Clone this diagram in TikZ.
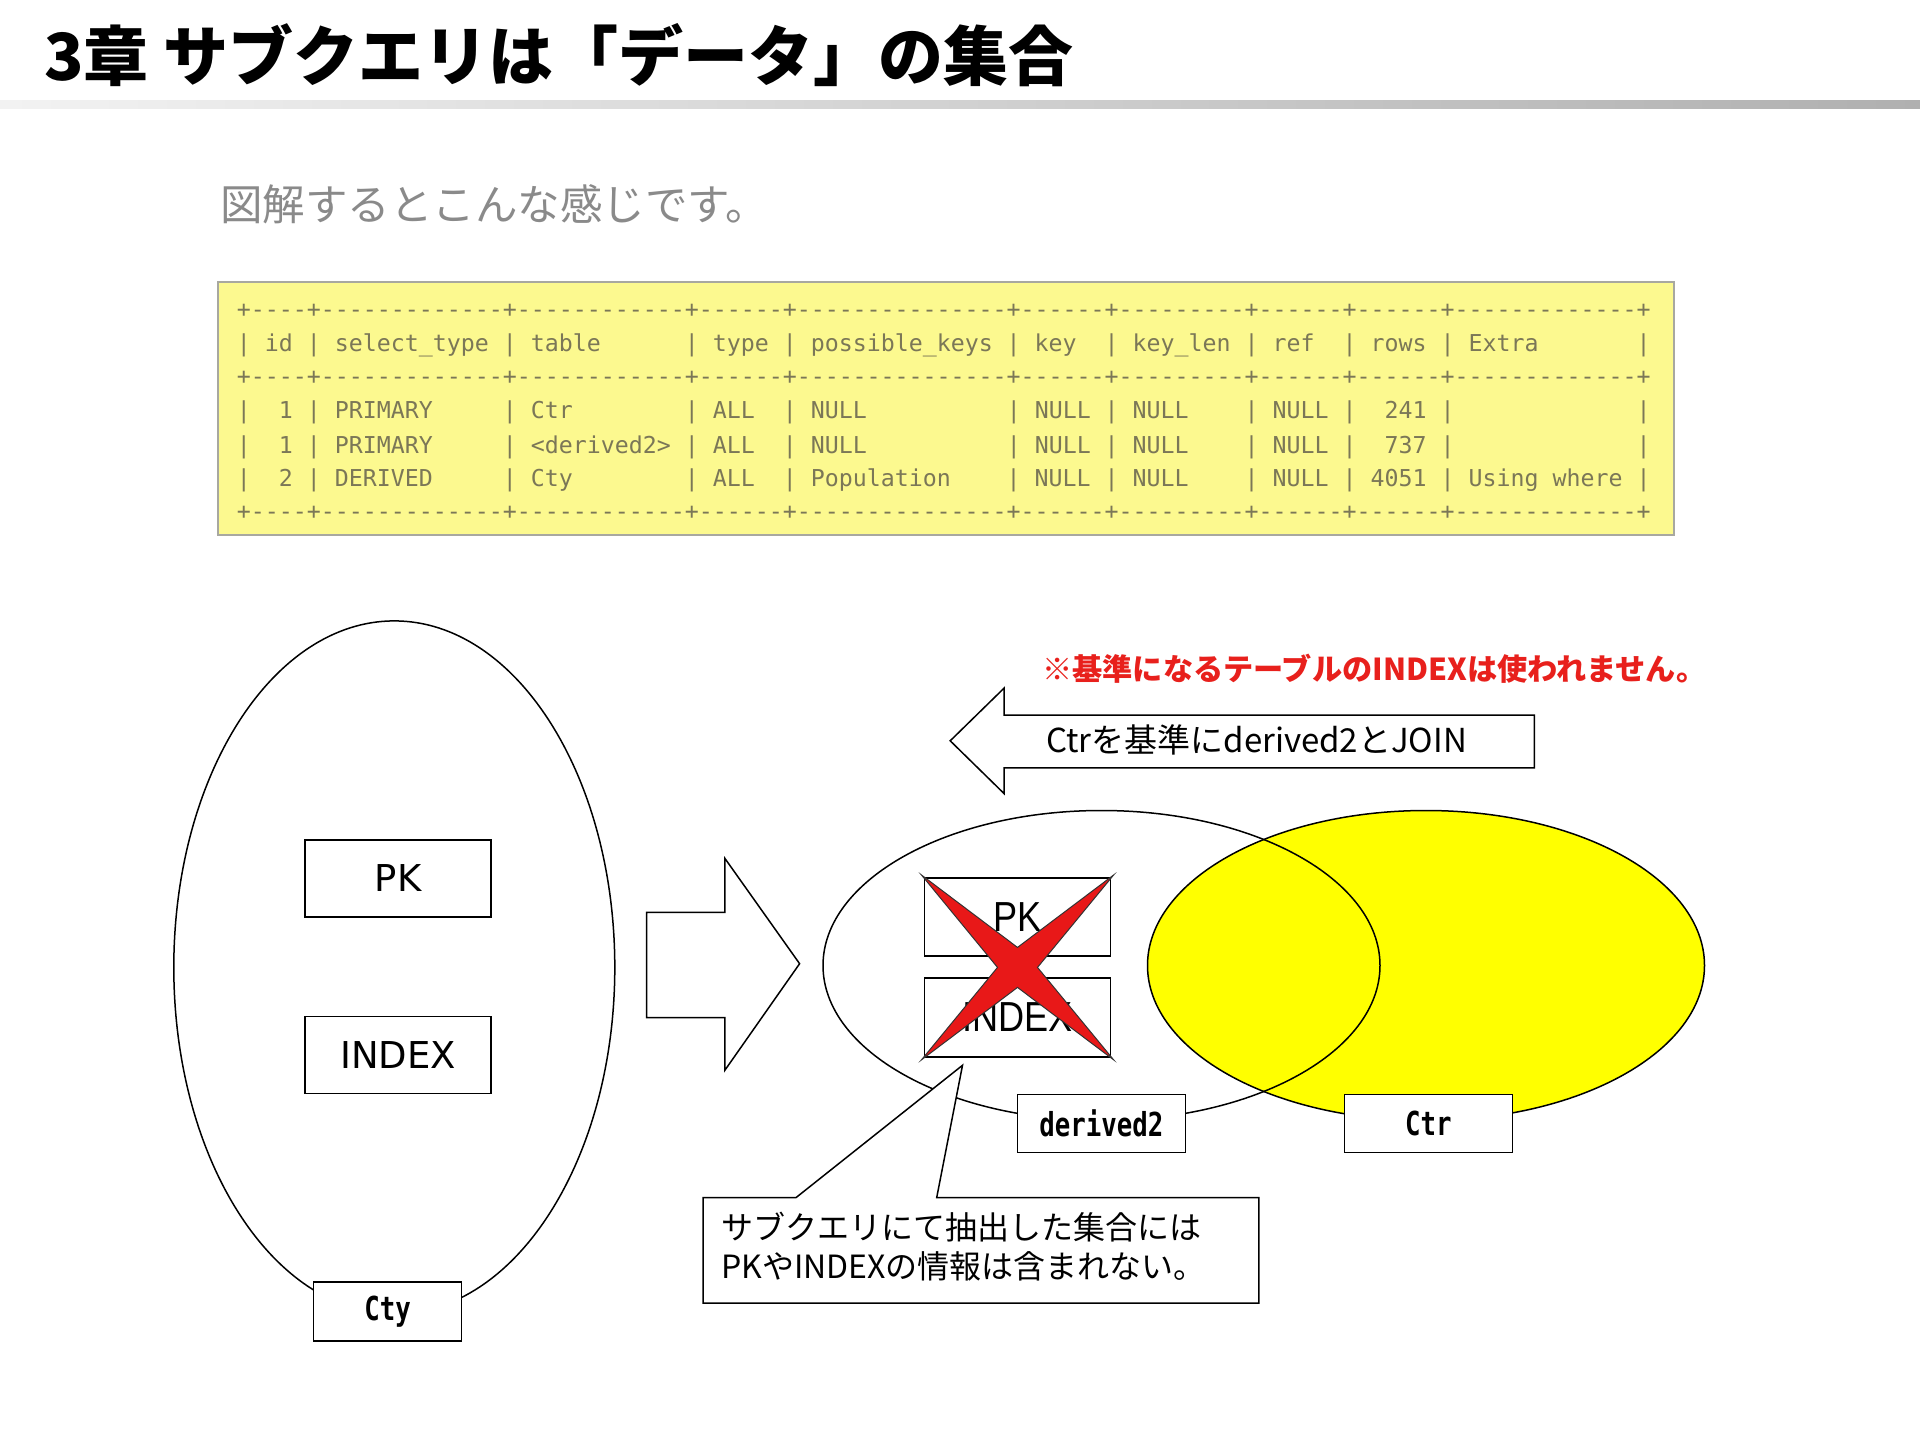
\documentclass[tikz,border=0pt]{standalone}
\usepackage{fontspec}
\usetikzlibrary{shapes.geometric}
\newfontfamily\jp{Noto Sans CJK JP}
\newfontfamily\tblfont{DejaVu Sans Mono}
\newfontfamily\labfont{DejaVu Sans Mono}[FakeStretch=0.78]
\newfontfamily\narrowfont{Liberation Sans}[FakeStretch=0.86]
\newfontfamily\vsans{DejaVu Sans}
\definecolor{tblyellow}{HTML}{FCF98F}
\definecolor{tbltext}{HTML}{7B7757}
\definecolor{tblborder}{HTML}{A8A8A0}
\definecolor{notered}{HTML}{E8201C}
\definecolor{subgray}{HTML}{8A8A8A}
\definecolor{xred}{HTML}{E81818}
\definecolor{setyellow}{HTML}{FFFF00}
\begin{document}
\begin{tikzpicture}[x=1pt,y=-1pt,
  outl/.style={draw=black,line width=1.5pt},
  box/.style={draw=black,line width=1.5pt,fill=white,inner sep=0pt,minimum width=186pt,minimum height=77pt},
  tag/.style={draw=black,line width=1.5pt,fill=white,inner sep=0pt,minimum width=168pt,minimum height=58pt,font=\labfont\bfseries\fontsize{33}{36}\selectfont},
  tline/.style={anchor=base west,inner sep=0pt,text=tbltext,font=\tblfont\fontsize{23.25}{26}\selectfont}]
\fill[white] (0,0) rectangle (1920,1440);
\useasboundingbox (0,0) rectangle (1920,1440);

% title
\node[anchor=west,inner sep=0pt,font=\jp\bfseries\fontsize{65}{72}\selectfont] (title) at (44,55) {3章 サブクエリは「データ」の集合};
\shade[left color=gray!10,right color=gray!62] (0,100) rectangle (1920,108);

% subtitle
\node[anchor=west,inner sep=0pt,text=subgray,font=\jp\fontsize{42.5}{48}\selectfont] (sub) at (220,204) {図解するとこんな感じです。};

% table
\node[draw=tblborder,line width=1.5pt,fill=tblyellow,minimum width=1456pt,minimum height=253pt,inner sep=0pt] (tbl) at (946,408.5) {};
\node[tline] (tl1) at (236.7,317.1) {+----+-------------+------------+------+---------------+------+---------+------+------+-------------+};
\node[tline] (tl2) at (236.7,351.4) {|~id~|~select\_type~|~table~~~~~~|~type~|~possible\_keys~|~key~~|~key\_len~|~ref~~|~rows~|~Extra~~~~~~~|};
\node[tline] (tl3) at (236.7,384.4) {+----+-------------+------------+------+---------------+------+---------+------+------+-------------+};
\node[tline] (tl4) at (236.7,418.7) {|~~1~|~PRIMARY~~~~~|~Ctr~~~~~~~~|~ALL~~|~NULL~~~~~~~~~~|~NULL~|~NULL~~~~|~NULL~|~~241~|~~~~~~~~~~~~~|};
\node[tline] (tl5) at (236.7,453.0) {|~~1~|~PRIMARY~~~~~|~<derived2>~|~ALL~~|~NULL~~~~~~~~~~|~NULL~|~NULL~~~~|~NULL~|~~737~|~~~~~~~~~~~~~|};
\node[tline] (tl6) at (236.7,486.1) {|~~2~|~DERIVED~~~~~|~Cty~~~~~~~~|~ALL~~|~Population~~~~|~NULL~|~NULL~~~~|~NULL~|~4051~|~Using~where~|};
\node[tline] (tl7) at (236.7,519.1) {+----+-------------+------------+------+---------------+------+---------+------+------+-------------+};

% left set (Cty)
\node[ellipse,outl,minimum width=441pt,minimum height=693pt,inner sep=0pt] (ctyset) at (394.3,967.4) {};
\node[box,font=\vsans\fontsize{37}{40}\selectfont] (pk1) at (398,878.5) {PK};
\node[box,font=\vsans\fontsize{37}{40}\selectfont] (idx1) at (398,1055) {INDEX};
\node[tag,minimum width=148pt,minimum height=59pt] (cty) at (387.5,1311.5) {Cty};

% big right arrow
\draw[outl,fill=white,line join=miter] (646.5,912.3) -- (724.9,912.3) -- (724.9,858.4) -- (799.6,963.7) -- (724.9,1070.2) -- (724.9,1017.6) -- (646.5,1017.6) -- cycle;

% red note
\node[anchor=west,inner sep=0pt,text=notered,font=\jp\bfseries\fontsize{30.2}{34}\selectfont] (note) at (1042,669) {※基準になるテーブルのINDEXは使われません。};

% left arrow
\draw[outl,fill=white,line join=miter] (1534.3,715.1) -- (1004,715.1) -- (1004,688.2) -- (950.2,740.8) -- (1004,793.5) -- (1004,767.8) -- (1534.3,767.8) -- cycle;
\node[anchor=west,inner sep=0pt,font=\jp\fontsize{33}{38}\selectfont] (join) at (1046,740) {Ctrを基準にderived2とJOIN};

% sets
\node[ellipse,draw=black,line width=1.5pt,fill=setyellow,minimum width=557pt,minimum height=310pt,inner sep=0pt] (ctrset) at (1426,965.5) {};
\node[ellipse,outl,minimum width=557pt,minimum height=310pt,inner sep=0pt] (derset) at (1101.5,965.5) {};

% crossed boxes
\node[box,minimum height=78pt,font=\narrowfont\fontsize{42}{46}\selectfont] (pk2) at (1017.5,917.2) {PK};
\node[box,minimum height=79pt,font=\narrowfont\fontsize{42}{46}\selectfont] (idx2) at (1017.5,1017.4) {INDEX};
\draw[fill=xred,draw=black!80,line width=1pt,line join=miter]
  (921.5,875) -- (1017.5,947.4) -- (1113.6,875) -- (1037.5,967.4) -- (1113.6,1059.8) -- (1017.5,987.4) -- (921.5,1059.8) -- (997.5,967.4) -- cycle;

% labels
\node[tag] (der) at (1101.4,1123.5) {derived2};
\node[tag] (ctr) at (1428.4,1123.5) {Ctr};

% callout
\coordinate (tip) at (962.5,1065.3);
\draw[outl,fill=white,line join=miter] (703,1197.6) -- (796,1197.6) -- (tip) -- (936.7,1197.6) -- (1258.8,1197.6) -- (1258.8,1303) -- (703,1303) -- cycle;
\node[anchor=west,align=left,inner sep=0pt,font=\jp\fontsize{32}{39}\selectfont] (callout) at (721,1246.5) {サブクエリにて抽出した集合には\\PKやINDEXの情報は含まれない。};
\end{tikzpicture}
\end{document}
